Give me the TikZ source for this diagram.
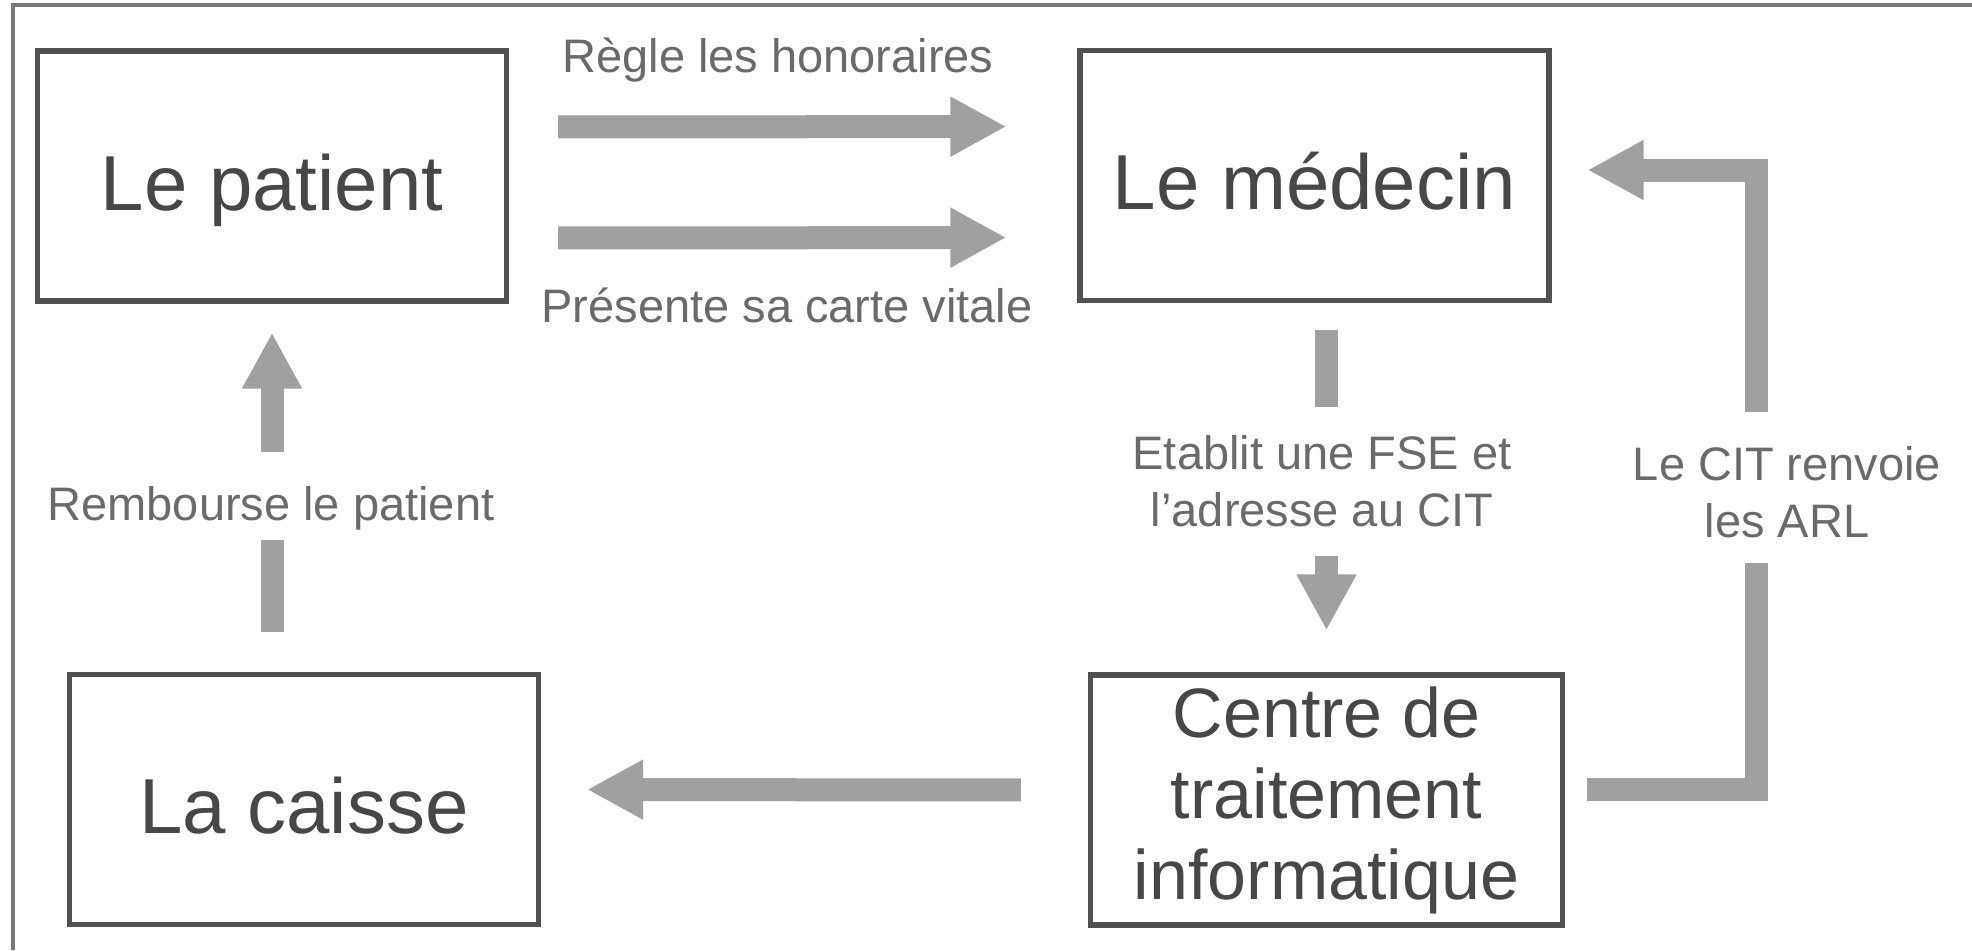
\documentclass[tikz,border=0pt]{standalone}
\usepackage{fontspec}
\setmainfont{Liberation Sans}
\usetikzlibrary{arrows.meta}
\definecolor{boxgray}{HTML}{505050}
\definecolor{textgray}{HTML}{474747}
\definecolor{lblgray}{HTML}{6A6A6A}
\definecolor{arrowgray}{HTML}{A0A0A0}
\definecolor{framegray}{HTML}{7A7A7A}
\begin{document}
\begin{tikzpicture}[x=0.5pt,y=-0.5pt,
    box/.style={draw=boxgray,line width=2.6pt,minimum width=234.5pt,minimum height=125pt,
      inner sep=0pt,text=textgray,font=\fontsize{39}{44}\selectfont},
    ligne/.style={text height=34pt,text depth=0pt},
    lbl/.style={inner sep=0pt,text=lblgray,font=\fontsize{23.5}{28.5}\selectfont,align=center},
    trait/.style={draw=arrowgray,line width=11.5pt},
    fleche/.style={trait,-{Triangle[length=28pt,width=28pt]}}]
  \useasboundingbox (0,0) rectangle (1972,950);
  \draw[framegray,line width=2pt] (13,950) -- (13,5) -- (1972,5);
  \node[box,ligne] (patient) at (272,176) {Le patient};
  \node[box,ligne] (medecin) at (1314.5,175.5) {Le médecin};
  \node[box,ligne] (caisse) at (304,799.5) {La caisse};
  \node[box,minimum width=236pt,align=center,font=\fontsize{35}{40.5}\selectfont] (cit)
    at (1326.5,800) {Centre de\\traitement\\informatique};
  \node[lbl,anchor=base] (regle) at (778,72) {Règle les honoraires};
  \node[lbl,anchor=base] (carte) at (787,322) {Présente sa carte vitale};
  \node[lbl,anchor=base] (remb) at (271,520) {Rembourse le patient};
  \node[lbl] (etab) at (1322,481.5) {Etablit une FSE et\\l'adresse au CIT};
  \node[lbl] (renvoi) at (1787,492) {Le CIT renvoie\\les ARL};
  \coordinate (coin) at (1756,170);
  \begin{scope}[line join=miter]
    \draw[fleche,shorten <=24.5pt,shorten >=35.5pt] ([yshift=24.5pt]patient.east) -- ([yshift=24.5pt]medecin.west);
    \draw[fleche,shorten <=24.5pt,shorten >=35.5pt] ([yshift=-31pt]patient.east) -- ([yshift=-31pt]medecin.west);
    \draw[fleche,shorten <=17pt,shorten >=14.5pt] (remb.north -| patient.south) -- (patient.south);
    \draw[trait,shorten <=20pt,shorten >=5pt] (patient.south |- caisse.north) -- (remb.south -| patient.south);
    \draw[trait,shorten <=13.5pt,shorten >=14pt] (medecin.south -| cit.north) -- (etab.north -| cit.north);
    \draw[fleche,shorten <=14pt,shorten >=21pt] (etab.south -| cit.north) -- (cit.north);
    \draw[fleche,shorten <=17pt,shorten >=18pt] (renvoi.north -| coin) -- (coin) -- ([yshift=2.75pt]medecin.east);
    \draw[trait,shorten <=12.5pt,shorten >=11pt] (renvoi.south -| coin) |- ([yshift=5.5pt]cit.east);
    \draw[fleche,shorten <=33.5pt,shorten >=23pt] ([yshift=5pt]cit.west) -- ([yshift=5pt]caisse.east);
  \end{scope}
\end{tikzpicture}
\end{document}
